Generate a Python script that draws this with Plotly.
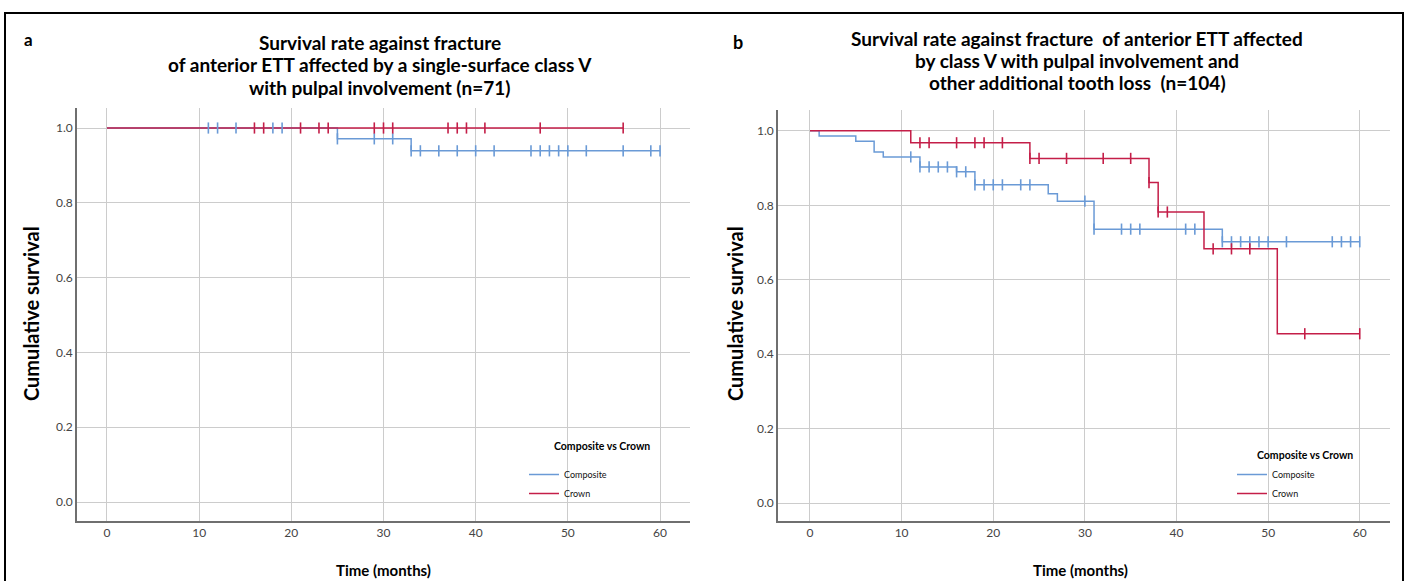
import plotly.graph_objects as go

# ---------------- data ----------------
months_ticks = [0, 10, 20, 30, 40, 50, 60]
surv_ticks = [0.0, 0.2, 0.4, 0.6, 0.8, 1.0]

# Panel a (n=71)
a_comp_times = [0, 25, 33]
a_comp_surv = [1.0, 0.971, 0.939]
a_comp_end = 60
a_comp_cens = [11, 12, 14, 18, 19, 25, 29, 31, 33, 34, 36, 38, 40, 42, 46, 47, 48, 49, 50, 52, 56, 59, 60]

a_crown_times = [0]
a_crown_surv = [1.0]
a_crown_end = 56
a_crown_cens = [16, 17, 21, 23, 24, 29, 30, 31, 37, 38, 39, 41, 47, 56]

# Panel b (n=104)
b_comp_times = [0, 1, 5, 7, 8, 12, 16, 18, 26, 27, 31, 45]
b_comp_surv = [1.0, 0.986, 0.972, 0.943, 0.930, 0.903, 0.890, 0.855, 0.831, 0.811, 0.736, 0.702]
b_comp_end = 60
b_comp_cens = [11, 12, 13, 14, 15, 16, 17, 18, 19, 20, 21, 23, 24, 30, 31, 34, 35, 36, 41, 42,
               45, 46, 47, 48, 49, 50, 52, 57, 58, 59, 60]

b_crown_times = [0, 11, 24, 37, 38, 43, 51]
b_crown_surv = [1.0, 0.968, 0.926, 0.861, 0.782, 0.683, 0.455]
b_crown_end = 60
b_crown_cens = [12, 13, 16, 18, 19, 21, 24, 25, 28, 32, 35, 37, 38, 39, 44, 46, 48, 54, 60]

title_a = ["Survival rate against fracture",
           "of anterior ETT affected by a single-surface class V",
           "with pulpal involvement (n=71)"]
title_b = ["Survival rate against fracture  of anterior ETT affected",
           "by class V with pulpal involvement and",
           "other additional tooth loss  (n=104)"]

COMP = "#6a9ad6"
CROWN = "#c41e48"
FONT = "Lato"


def step_xy(times, surv, end):
    return list(times) + [end], list(surv) + [surv[-1]]


def surv_at(times, surv, t):
    val = surv[0]
    for ti, si in zip(times, surv):
        if ti <= t:
            val = si
    return val


fig = go.Figure()


def add_panel(xa, ya, leg, c_t, c_s, c_e, c_c, r_t, r_s, r_e, r_c):
    x, y = step_xy(c_t, c_s, c_e)
    fig.add_trace(go.Scatter(x=x, y=y, mode="lines", line=dict(color=COMP, width=1.5, shape="hv"),
                             name="Composite", xaxis=xa, yaxis=ya, legend=leg))
    x, y = step_xy(r_t, r_s, r_e)
    fig.add_trace(go.Scatter(x=x, y=y, mode="lines", line=dict(color=CROWN, width=1.5, shape="hv"),
                             name="Crown", xaxis=xa, yaxis=ya, legend=leg))
    fig.add_trace(go.Scatter(x=c_c, y=[surv_at(c_t, c_s, t) for t in c_c], mode="markers",
                             marker=dict(symbol="line-ns", size=8, line=dict(width=1.6, color=COMP)),
                             showlegend=False, xaxis=xa, yaxis=ya, hoverinfo="skip"))
    fig.add_trace(go.Scatter(x=r_c, y=[surv_at(r_t, r_s, t) for t in r_c], mode="markers",
                             marker=dict(symbol="line-ns", size=8, line=dict(width=1.6, color=CROWN)),
                             showlegend=False, xaxis=xa, yaxis=ya, hoverinfo="skip"))


add_panel("x", "y", "legend", a_comp_times, a_comp_surv, a_comp_end, a_comp_cens,
          a_crown_times, a_crown_surv, a_crown_end, a_crown_cens)
add_panel("x2", "y2", "legend2", b_comp_times, b_comp_surv, b_comp_end, b_comp_cens,
          b_crown_times, b_crown_surv, b_crown_end, b_crown_cens)

W, H = 1408, 581


def px(v):
    return v / W


def py(v):
    return 1 - v / H


axis_common = dict(showgrid=True, gridcolor="#cccccc", gridwidth=1, zeroline=False,
                   showline=True, linecolor="#6f6f6f", linewidth=1.5, ticks="",
                   tickfont=dict(family=FONT, size=12, color="#444"))

legend_common = dict(xanchor="left", yanchor="top", bgcolor="rgba(0,0,0,0)",
                     font=dict(family=FONT, size=9, color="#111"), itemwidth=30, tracegroupgap=0)

fig.update_layout(
    width=W, height=H, margin=dict(l=0, r=0, t=0, b=0),
    paper_bgcolor="white", plot_bgcolor="white",
    xaxis=dict(domain=[px(77), px(690)], range=[-3.25, 63.25], tickvals=months_ticks, anchor="y", **axis_common),
    yaxis=dict(domain=[py(521), py(108)], range=[-0.0508, 1.0535], tickvals=surv_ticks, tickformat=".1f",
               anchor="x", **axis_common),
    xaxis2=dict(domain=[px(778), px(1390)], range=[-3.49, 63.3], tickvals=months_ticks, anchor="y2", **axis_common),
    yaxis2=dict(domain=[py(521), py(110)], range=[-0.048, 1.056], tickvals=surv_ticks, tickformat=".1f",
                anchor="x2", **axis_common),
    legend=dict(x=px(524), y=py(460), **legend_common),
    legend2=dict(x=px(1232), y=py(460), **legend_common),
    showlegend=True,
)

ann = []
for i, line in enumerate(title_a):
    ann.append(dict(text="<b>%s</b>" % line, x=px(380), y=py(43 + 22 * i), xref="paper", yref="paper",
                    xanchor="center", yanchor="middle", showarrow=False,
                    font=dict(family=FONT, size=19, color="#000")))
for i, line in enumerate(title_b):
    ann.append(dict(text="<b>%s</b>" % line, x=px(1077), y=py(38 + 22.5 * i), xref="paper", yref="paper",
                    xanchor="center", yanchor="middle", showarrow=False,
                    font=dict(family=FONT, size=19, color="#000")))
ann.append(dict(text="<b>a</b>", x=px(28), y=py(40), xref="paper", yref="paper", showarrow=False,
                xanchor="center", yanchor="middle", font=dict(family=FONT, size=17, color="#000")))
ann.append(dict(text="<b>b</b>", x=px(738), y=py(42), xref="paper", yref="paper", showarrow=False,
                xanchor="center", yanchor="middle", font=dict(family=FONT, size=18, color="#000")))
for xx in (31, 735):
    ann.append(dict(text="<b>Cumulative survival</b>", x=px(xx), y=py(314), xref="paper", yref="paper",
                    xanchor="center", yanchor="middle",
                    textangle=-90, showarrow=False, font=dict(family=FONT, size=20, color="#000")))
for xx in (383, 1080):
    ann.append(dict(text="<b>Time (months)</b>", x=px(xx), y=py(570), xref="paper", yref="paper",
                    xanchor="center", yanchor="middle",
                    showarrow=False, font=dict(family=FONT, size=15, color="#000")))
for xx, yy in ((602, 446), (1305, 455)):
    ann.append(dict(text="<b>Composite vs Crown</b>", x=px(xx), y=py(yy), xref="paper", yref="paper",
                    xanchor="center", yanchor="middle",
                    showarrow=False, font=dict(family=FONT, size=10.5, color="#000")))
fig.update_layout(annotations=ann)

fig.add_shape(type="rect", xref="paper", yref="paper", x0=px(5), x1=px(1403), y0=py(583), y1=py(13),
              line=dict(color="black", width=2), fillcolor="rgba(0,0,0,0)")

fig.write_html("out.html",
               config={"displayModeBar": False},
               post_script="document.body.style.margin='0';document.body.style.overflow='hidden';")
